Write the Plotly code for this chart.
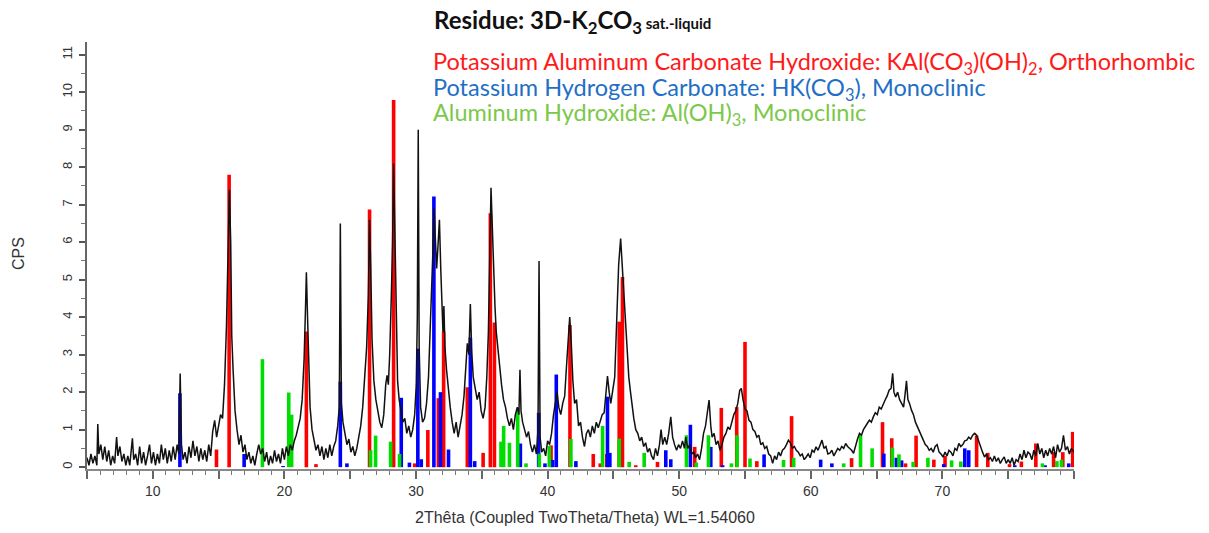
import plotly.graph_objects as go

# ---------------- data ----------------
two_theta = [
5.0,5.15,5.3,5.45,5.6,5.75,5.82,5.9,6.05,6.2,6.35,6.5,6.65,6.8,6.95,7.1,7.25,7.35,7.5,7.65,7.8,7.95,8.1,8.25,8.45,8.55,8.7,8.85,9.0,9.15,9.3,9.45,9.6,9.75,9.9,
10.05,10.2,10.35,10.5,10.65,10.8,10.95,11.1,11.25,11.4,11.55,11.7,11.85,11.98,12.08,12.18,12.3,12.45,12.6,12.75,12.9,13.05,13.2,13.35,13.5,13.65,13.8,13.95,
14.1,14.25,14.4,14.55,14.7,14.85,15.0,15.15,15.3,15.45,15.6,15.72,15.82,15.92,16.0,16.1,16.25,16.4,16.55,16.7,16.85,17.0,17.15,17.3,17.45,17.6,17.75,17.9,
18.05,18.2,18.35,18.5,18.65,18.8,18.95,19.1,19.25,19.4,19.55,19.7,19.85,20.0,20.15,20.3,20.45,20.6,20.75,20.9,21.05,21.2,21.35,21.5,21.6,21.67,21.76,21.85,
21.95,22.1,22.25,22.4,22.55,22.7,22.85,23.0,23.15,23.3,23.45,23.6,23.75,23.9,24.05,24.17,24.25,24.33,24.45,24.6,24.75,24.9,25.05,25.2,25.35,25.5,25.65,25.8,
25.95,26.1,26.25,26.38,26.47,26.56,26.66,26.8,26.95,27.1,27.25,27.4,27.55,27.7,27.8,27.9,28.0,28.12,28.22,28.3,28.38,28.48,28.6,28.72,28.85,29.0,29.15,29.3,
29.45,29.6,29.75,29.9,30.02,30.1,30.17,30.24,30.35,30.5,30.65,30.8,30.95,31.05,31.15,31.27,31.37,31.47,31.57,31.67,31.78,31.88,31.97,32.05,32.12,32.2,32.32,
32.45,32.6,32.75,32.9,33.05,33.2,33.35,33.5,33.65,33.78,33.9,34.02,34.13,34.23,34.35,34.5,34.65,34.8,34.95,35.1,35.25,35.38,35.5,35.6,35.7,35.8,35.9,36.0,
36.1,36.22,36.35,36.5,36.65,36.8,36.95,37.1,37.25,37.4,37.55,37.7,37.82,37.9,37.98,38.1,38.25,38.4,38.55,38.7,38.85,39.0,39.15,39.27,39.35,39.43,39.55,39.7,
39.85,40.0,40.15,40.3,40.45,40.6,40.72,40.85,41.0,41.15,41.3,41.42,41.55,41.68,41.8,41.92,42.05,42.2,42.35,42.5,42.65,42.8,42.95,43.1,43.25,43.4,43.55,43.7,
43.85,44.0,44.15,44.3,44.45,44.55,44.68,44.8,44.95,45.1,45.25,45.4,45.55,45.68,45.8,45.92,46.05,46.17,46.3,46.42,46.55,46.7,46.85,47.0,47.15,47.3,47.45,47.6,
47.75,47.9,48.05,48.2,48.35,48.5,48.62,48.75,48.9,49.05,49.2,49.36,49.5,49.65,49.8,49.95,50.1,50.25,50.4,50.5,50.65,50.8,50.95,51.1,51.25,51.4,51.55,51.7,
51.85,52.0,52.12,52.27,52.4,52.5,52.65,52.8,52.95,53.1,53.25,53.4,53.55,53.7,53.85,54.0,54.15,54.3,54.45,54.6,54.72,54.85,55.0,55.15,55.3,55.45,55.6,55.75,
55.9,56.05,56.2,56.35,56.5,56.65,56.8,56.95,57.1,57.25,57.4,57.55,57.7,57.85,58.0,58.15,58.3,58.45,58.6,58.75,58.9,59.05,59.2,59.35,59.5,59.65,59.8,59.95,
60.1,60.25,60.4,60.55,60.7,60.85,61.0,61.15,61.3,61.45,61.6,61.75,61.9,62.05,62.2,62.35,62.5,62.65,62.8,62.95,63.1,63.25,63.4,63.55,63.7,63.85,64.0,64.15,
64.3,64.45,64.6,64.75,64.9,65.05,65.2,65.35,65.5,65.65,65.8,65.95,66.1,66.22,66.32,66.45,66.6,66.75,66.9,67.05,67.15,67.27,67.38,67.5,67.65,67.8,67.95,68.1,
68.25,68.4,68.55,68.7,68.85,69.0,69.15,69.3,69.45,69.6,69.75,69.9,70.05,70.2,70.35,70.5,70.65,70.8,70.95,71.1,71.25,71.4,71.55,71.7,71.85,72.0,72.15,72.3,
72.45,72.6,72.75,72.9,73.05,73.2,73.35,73.5,73.65,73.8,73.95,74.1,74.25,74.4,74.55,74.7,74.85,75.0,75.15,75.3,75.45,75.6,75.75,75.9,76.05,76.2,76.35,76.5,
76.65,76.8,76.95,77.1,77.25,77.4,77.55,77.7,77.85,78.0,78.15,78.3,78.45,78.6,78.75,78.9,79.05,79.2,79.35,79.5,79.65,79.8,80.0]

cps = [
0.25,0.05,0.35,0.1,0.3,0.05,1.15,0.35,0.6,0.2,0.55,0.15,0.45,0.05,0.3,0.1,0.8,0.3,0.55,0.15,0.35,0.05,0.3,0.05,0.77,0.2,0.35,0.05,0.55,0.1,0.4,0.05,0.3,0.6,0.1,
0.4,0.05,0.35,0.1,0.6,0.2,0.5,0.1,0.45,0.15,0.55,0.2,0.6,0.35,2.5,0.6,0.2,0.4,0.1,0.55,0.25,0.7,0.3,0.55,0.15,0.5,0.2,0.45,
0.15,0.6,0.3,0.95,1.25,0.8,1.1,1.4,1.3,2.2,3.8,5.5,7.4,6.0,3.5,2.6,1.5,1.0,0.6,0.85,0.4,0.6,0.2,0.4,0.1,0.3,0.05,0.35,
0.6,0.35,0.5,0.15,0.4,0.05,0.3,0.1,0.45,0.15,0.35,0.1,0.5,0.2,0.55,0.3,0.6,0.45,0.7,0.85,1.1,1.3,1.8,2.9,4.2,5.2,4.0,2.6,
1.6,1.0,0.7,0.45,0.6,0.3,0.55,0.2,0.5,0.25,0.6,0.3,0.55,0.7,1.1,1.6,6.5,1.7,1.2,0.9,0.6,0.75,0.4,0.55,0.3,0.5,0.8,1.1,
1.6,2.3,3.2,4.6,6.6,5.3,3.4,2.3,1.8,1.5,1.2,1.05,1.4,2.2,2.45,2.2,3.0,4.5,6.0,8.1,6.2,4.0,2.3,1.8,1.5,1.2,1.3,0.9,
1.1,0.8,1.0,1.4,2.2,4.0,9.0,3.2,1.6,1.2,1.3,1.7,2.4,3.3,4.3,5.6,6.9,6.1,5.3,5.9,6.6,5.3,4.3,3.6,4.3,3.2,2.6,
2.1,1.6,1.2,0.9,1.2,0.8,1.1,1.4,1.9,2.8,3.3,3.0,4.35,3.1,2.4,2.1,1.8,2.0,1.5,1.3,1.6,2.4,3.6,5.5,7.45,6.4,5.2,4.3,
3.6,3.2,2.6,2.2,1.8,1.6,1.3,1.1,1.3,1.0,1.4,1.6,1.4,2.6,1.5,1.2,1.0,0.8,0.95,0.6,0.4,0.6,0.35,1.0,5.5,0.8,0.4,0.5,
0.3,0.7,0.6,0.9,1.4,1.7,2.0,1.6,1.4,1.7,1.9,2.6,3.2,4.0,3.3,2.3,1.7,1.8,1.1,1.2,0.8,0.55,0.9,1.0,0.8,1.1,0.9,1.2,
1.05,1.25,1.4,1.45,2.0,2.43,2.0,1.7,2.05,2.4,3.9,5.4,6.1,5.3,4.5,3.7,3.0,2.4,2.0,1.6,1.3,1.0,0.9,0.7,0.8,0.55,0.65,0.4,
0.5,0.3,0.2,0.5,0.3,0.6,1.0,0.6,0.8,0.6,0.9,1.34,0.8,0.6,0.45,0.6,0.5,0.7,0.5,0.8,0.5,0.6,0.35,0.4,0.25,0.35,0.2,0.5,
0.9,1.1,1.4,1.79,1.1,0.8,0.9,0.6,0.7,0.45,0.6,0.8,0.9,1.07,1.0,1.2,1.4,1.5,1.7,2.05,2.1,1.8,1.55,1.5,1.25,1.2,1.0,0.95,
0.8,0.85,0.6,0.65,0.5,0.55,0.35,0.3,0.1,0.3,0.2,0.4,0.3,0.45,0.5,0.6,0.72,0.65,0.5,0.55,0.45,0.4,0.3,0.35,0.2,0.27,0.35,0.25,
0.45,0.4,0.54,0.45,0.6,0.72,0.5,0.55,0.35,0.37,0.45,0.3,0.4,0.5,0.45,0.55,0.5,0.63,0.55,0.5,0.45,0.37,0.6,0.75,0.9,0.85,1.0,1.1,
1.17,1.25,1.2,1.34,1.45,1.4,1.6,1.55,1.7,1.79,1.9,2.05,2.1,2.5,2.0,1.87,2.0,1.8,1.7,1.6,1.9,2.3,1.8,1.7,1.52,1.4,1.2,1.07,
0.95,0.8,0.72,0.6,0.55,0.45,0.5,0.4,0.55,0.6,0.4,0.35,0.27,0.4,0.3,0.45,0.4,0.3,0.5,0.45,0.63,0.55,0.6,0.7,0.72,0.8,0.75,0.85,
0.9,0.85,0.72,0.55,0.4,0.27,0.35,0.2,0.25,0.15,0.3,0.15,0.25,0.1,0.2,0.27,0.1,0.2,0.1,0.25,0.05,0.2,0.15,0.35,0.2,0.45,0.25,0.4,
0.35,0.2,0.45,0.3,0.63,0.35,0.5,0.25,0.45,0.3,0.5,0.35,0.55,0.25,0.6,0.4,0.5,0.85,0.45,0.55,0.35,0.5,0.4]

red_pos = [14.84, 15.8, 21.67, 22.4, 26.47, 28.3, 29.9, 30.9, 31.7, 32.1, 33.9, 35.1, 35.65, 35.96,
           40.26, 41.7, 43.47, 44.0, 44.5, 45.44, 45.69, 46.7, 48.35, 51.18, 53.2, 54.37, 55.0, 55.9,
           58.54, 63.1, 65.45, 66.15, 67.2, 68.0, 69.35, 70.2, 72.6, 73.45, 75.1, 76.0, 77.1, 78.45,
           79.15, 79.9]
red_h = [0.47, 7.8, 3.62, 0.08, 6.87, 9.79, 0.1, 0.99, 1.84, 3.62, 2.13, 0.38, 6.77, 3.86,
         0.58, 3.79, 0.35, 0.1, 0.35, 3.88, 5.07, 0.05, 0.14, 0.54, 1.58, 1.6, 3.34, 0.16,
         1.36, 0.24, 1.2, 0.77, 0.1, 0.84, 0.2, 0.3, 0.84, 0.38, 0.08, 0.15, 0.63, 0.4,
         0.4, 0.94]

blue_pos = [12.06, 16.94, 19.9, 24.25, 24.75, 28.88, 29.5, 30.14, 30.4, 31.36, 31.86, 32.47, 34.13,
            34.46, 37.93, 39.32, 39.8, 40.38, 40.66, 42.15, 44.55, 44.73, 48.98, 49.36, 50.85, 52.4,
            53.3, 56.45, 60.75, 61.6, 65.55, 66.5, 66.9, 70.1, 71.7, 72.0, 75.5, 77.8, 79.6]
blue_h = [1.97, 0.35, 0.03, 2.28, 0.1, 1.85, 0.12, 3.16, 0.21, 7.22, 2.0, 0.47, 3.46,
          0.16, 0.63, 1.45, 0.1, 0.19, 2.47, 0.16, 1.88, 0.38, 0.45, 0.21, 1.13, 0.54,
          0.05, 0.34, 0.2, 0.1, 0.36, 0.25, 0.18, 0.08, 0.5, 0.45, 0.05, 0.05, 0.1]

green_pos = [18.33, 20.33, 20.55, 26.55, 26.93, 28.07, 28.75, 36.46, 36.66, 37.1, 37.73, 38.36, 39.37,
             40.13, 41.77, 44.18, 45.44, 46.2, 47.34, 50.55, 51.3, 52.22, 53.97, 54.4, 55.38, 57.93,
             58.7, 62.5, 63.78, 64.66, 66.2, 66.7, 67.78, 68.9, 70.7, 71.4, 77.6, 78.7, 79.05]
green_h = [2.88, 1.99, 1.4, 0.45, 0.84, 0.68, 0.35, 0.68, 1.1, 0.65, 1.56, 0.1, 0.36,
           0.56, 0.75, 1.1, 0.76, 0.14, 0.38, 0.85, 0.12, 0.85, 0.1, 0.85, 0.23, 0.19,
           0.25, 0.1, 0.85, 0.5, 0.52, 0.34, 0.14, 0.25, 0.18, 0.15, 0.1, 0.16, 0.2]

x_tick_vals = [5, 10, 15, 20, 25, 30, 35, 40, 45, 50, 55, 60, 65, 70, 75, 80]
x_tick_text = [" ", "10", " ", "20", " ", "30", " ", "40", " ", "50", " ", "60", " ", "70", " ", " "]
y_tick_vals = [0, 1, 2, 3, 4, 5, 6, 7, 8, 9, 10, 11]

title_text = "<b>Residue: 3D-K<sub>2</sub>CO<sub>3</sub><span style='font-size:15px'> sat.-liquid</span></b>"
phase_texts = [
    "Potassium Aluminum Carbonate Hydroxide: KAl(CO<sub>3</sub>)(OH)<sub>2</sub>, Orthorhombic",
    "Potassium Hydrogen Carbonate: HK(CO<sub>3</sub>), Monoclinic",
    "Aluminum Hydroxide: Al(OH)<sub>3</sub>, Monoclinic",
]
phase_colors = ["#ff1a1a", "#1f6fc5", "#7cc84a"]
stick_colors = ["#ff0000", "#0000ff", "#00dd00"]

# ---------------- figure ----------------
# page body has an 8px margin, so reference pixel positions are shifted by 8
OFF = 8
W, H = 1209 - OFF, 533 - OFF
L, R, T, B = 87 - OFF, 1074 - OFF, 42 - OFF, 469 - OFF


def px_x(p):
    return (p - OFF - L) / (R - L)


def px_y(p):
    return (B - (p - OFF)) / (B - T)


def sticks(pos, h):
    xs, ys = [], []
    for p, v in zip(pos, h):
        xs += [p, p, None]
        ys += [0, v, None]
    return xs, ys


fig = go.Figure()
for (pos, h), col in zip([(red_pos, red_h), (blue_pos, blue_h), (green_pos, green_h)], stick_colors):
    xs, ys = sticks(pos, h)
    fig.add_trace(go.Scatter(x=xs, y=ys, mode="lines", line=dict(color=col, width=3.6),
                             hoverinfo="skip", showlegend=False))

fig.add_trace(go.Scatter(x=two_theta, y=cps, mode="lines",
                         line=dict(color="#111111", width=1.5),
                         hoverinfo="skip", showlegend=False))

axis_font = dict(family="Liberation Sans, Arial, sans-serif", size=14, color="#333333")

fig.update_layout(
    width=W, height=H,
    margin=dict(l=L, r=W - R, t=T, b=H - B, pad=0, autoexpand=False),
    paper_bgcolor="white", plot_bgcolor="white",
    showlegend=False,
    xaxis=dict(range=[5, 80], tickmode="array", tickvals=x_tick_vals, ticktext=x_tick_text,
               ticks="outside", ticklen=8, tickwidth=1.5, tickcolor="#666666",
               showline=True, linecolor="#888888", linewidth=2, showgrid=False, zeroline=False,
               tickfont=axis_font, automargin=False,
               minor=dict(dtick=1, tick0=5, ticks="outside", ticklen=4, tickwidth=1, tickcolor="#777777")),
    yaxis=dict(range=[-0.05, 11.34], tickmode="array", tickvals=y_tick_vals,
               ticks="outside", ticklen=6, tickwidth=1.5, tickcolor="#555555", tickangle=-90,
               showline=True, linecolor="#666666", linewidth=2, showgrid=False, zeroline=False,
               tickfont=dict(family="Liberation Sans, Arial, sans-serif", size=13, color="#333333"),
               ticklabelstandoff=2, automargin=False,
               minor=dict(dtick=0.5, tick0=0, ticks="outside", ticklen=4, tickwidth=1, tickcolor="#777777")),
)

annotations = [
    dict(text=title_text, x=px_x(432), y=px_y(22), xref="paper", yref="paper",
         xanchor="left", yanchor="middle", showarrow=False,
         font=dict(family="Lato, Open Sans, sans-serif", size=24, color="#111111")),
    dict(text="CPS", x=px_x(18), y=px_y(254), xref="paper", yref="paper", textangle=-90,
         xanchor="center", yanchor="middle", showarrow=False,
         font=dict(family="Liberation Sans, Arial, sans-serif", size=16, color="#333333")),
    dict(text="2Thêta (Coupled TwoTheta/Theta) WL=1.54060", x=px_x(585), y=px_y(518),
         xref="paper", yref="paper", xanchor="center", yanchor="middle", showarrow=False,
         font=dict(family="Liberation Sans, Arial, sans-serif", size=16, color="#333333")),
]
for i, (txt, col) in enumerate(zip(phase_texts, phase_colors)):
    annotations.append(dict(text=txt, x=px_x(431), y=px_y(63 + 25.5 * i), xref="paper", yref="paper",
                            xanchor="left", yanchor="middle", showarrow=False,
                            font=dict(family="Lato, Open Sans, sans-serif", size=23.5, color=col)))
fig.update_layout(annotations=annotations)

fig.write_html("out.html", config={"displayModeBar": False})
